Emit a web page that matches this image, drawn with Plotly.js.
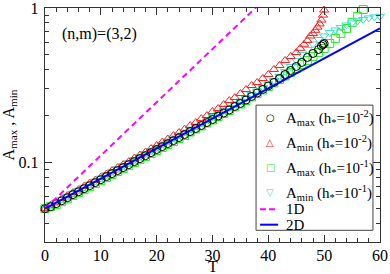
<!DOCTYPE html>
<html>
<head>
<meta charset="utf-8">
<script src="https://cdn.plot.ly/plotly-3.0.1.min.js"></script>
<style>html,body{margin:0;padding:0;background:#fff;}#chart{width:390px;height:274px;}</style>
</head>
<body>
<div id="chart"></div>
<script>
// ---- data ----
const T_amax_h2 = [0,1,2,3,4,5,6,7,8,9,10,11,12,13,14,15,16,17,18,19,20,21,22,23,24,25,26,27,28,29,30,31,32,33,34,35,36,37,38,39,40,41,42,43,44,45,46,47,48,49,49.5,49.8,50];
const amax_h2 = [0.0500,0.0515,0.0539,0.0563,0.0589,0.0617,0.0644,0.0674,0.0705,0.0738,0.0771,0.0807,0.0844,0.0883,0.0923,0.0965,0.1010,0.1056,0.1104,0.1155,0.1209,0.1264,0.1322,0.1382,0.1446,0.1512,0.1581,0.1654,0.1730,0.1809,0.1892,0.1994,0.2085,0.2182,0.2299,0.2404,0.2533,0.2669,0.2812,0.2964,0.3123,0.3291,0.3493,0.3708,0.3936,0.4178,0.4436,0.4780,0.5075,0.5387,0.5675,0.5800,0.5890];

const T_amin_h2 = [0,1,2,3,4,5,6,7,8,9,10,11,12,13,14,15,16,17,18,19,20,21,22,23,24,25,26,27,28,29,30,31,32,33,34,35,36,37,38,39,40,41,42,43,44,45,45.7,46.4,47,47.5,48,48.4,48.8,49.2,49.5,49.8,50];
const amin_h2 = [0.0500,0.0527,0.0551,0.0581,0.0607,0.0635,0.0664,0.0699,0.0732,0.0766,0.0801,0.0838,0.0883,0.0923,0.0965,0.1010,0.1064,0.1113,0.1164,0.1227,0.1283,0.1352,0.1414,0.1489,0.1558,0.1641,0.1729,0.1809,0.1920,0.2009,0.2132,0.2230,0.2367,0.2513,0.2628,0.2790,0.2962,0.3144,0.3288,0.3491,0.3706,0.3994,0.4239,0.4568,0.4848,0.5147,0.5474,0.5818,0.6154,0.6584,0.6828,0.7166,0.7505,0.7887,0.8354,0.8990,0.9700];

const T_amax_h1 = [0,1,2,3,4,5,6,7,8,9,10,11,12,13,14,15,16,17,18,19,20,21,22,23,24,25,26,27,28,29,30,31,32,33,34,35,36,37,38,39,40,41,42,43,44,45,46,47,48,49,50,51,52,53,54,55,56,57];
const amax_h1 = [0.0500,0.0515,0.0531,0.0555,0.0580,0.0608,0.0635,0.0664,0.0695,0.0727,0.0760,0.0795,0.0832,0.0870,0.0909,0.0951,0.0995,0.1040,0.1088,0.1139,0.1191,0.1245,0.1303,0.1362,0.1425,0.1490,0.1570,0.1642,0.1717,0.1797,0.1879,0.1979,0.2070,0.2165,0.2282,0.2386,0.2514,0.2650,0.2791,0.2942,0.3100,0.3267,0.3441,0.3626,0.3821,0.4056,0.4306,0.4571,0.4853,0.5152,0.5468,0.5893,0.6349,0.6842,0.7370,0.8063,0.8815,0.9781];

const T_amin_h1 = [0,1,2,3,4,5,6,7,8,9,10,11,12,13,14,15,16,17,18,19,20,21,22,23,24,25,26,27,28,29,30,31,32,33,34,35,36,37,38,39,40,41,42,43,44,45,46,47,48,49,50,51,52,53,54,55,56,57,58,59,60,60.6];
const amin_h1 = [0.0500,0.0527,0.0551,0.0576,0.0602,0.0631,0.0659,0.0689,0.0721,0.0755,0.0789,0.0831,0.0870,0.0909,0.0951,0.0995,0.1040,0.1088,0.1138,0.1191,0.1245,0.1312,0.1372,0.1435,0.1501,0.1570,0.1641,0.1717,0.1796,0.1892,0.1979,0.2070,0.2164,0.2264,0.2386,0.2495,0.2610,0.2750,0.2897,0.3053,0.3217,0.3390,0.3598,0.3877,0.4178,0.4568,0.4997,0.5384,0.5846,0.6250,0.6587,0.6940,0.7207,0.7479,0.7765,0.8004,0.8248,0.8433,0.8624,0.8759,0.8825,0.8850];

// theory lines (straight on a log axis: two end points each)
const T_1D = [0, 40];
const A_1D = [0.05, 1.2];
const T_2D = [0, 60];
const A_2D = [0.05, 0.738];

const xTicks = [0,10,20,30,40,50,60];
const yTickVals = [0.1, 1];
const yTickText = ['0.1', '1'];
const yMinor = [0.04,0.05,0.06,0.07,0.08,0.09,0.2,0.3,0.4,0.5,0.6,0.7,0.8,0.9];

const names = [
  'A<sub>max</sub> (h<sub>*</sub>=10<sup>-2</sup>)',
  'A<sub>min</sub> (h<sub>*</sub>=10<sup>-2</sup>)',
  'A<sub>max</sub> (h<sub>*</sub>=10<sup>-1</sup>)',
  'A<sub>min</sub> (h<sub>*</sub>=10<sup>-1</sup>)',
  '1D', '2D'
];
const colors = ['#000000', '#ff2020', '#22ee22', '#44dcd0', '#ff00ff', '#0000ff'];
const legendGlyphs = ['\u25CB', '\u25B3', '\u25A1', '\u25BD'];

const FONT = 'Liberation Serif, Times New Roman, serif';

function mk(x, y, name, sym, color) {
  return {x: x, y: y, type: 'scatter', mode: 'markers', name: name, showlegend: false,
    cliponaxis: false,
    marker: {symbol: sym, size: 8, color: color, line: {color: color, width: 1}}};
}

const traces = [
  mk(T_amax_h1, amax_h1, names[2], 'square-open', colors[2]),
  mk(T_amin_h1, amin_h1, names[3], 'triangle-down-open', colors[3]),
  mk(T_amin_h2, amin_h2, names[1], 'triangle-up-open', colors[1]),
  mk(T_amax_h2, amax_h2, names[0], 'circle-open', colors[0]),
  {x: T_1D, y: A_1D, type: 'scatter', mode: 'lines', name: names[4], showlegend: false,
   line: {color: colors[4], width: 2, dash: '6px,4px'}},
  {x: T_2D, y: A_2D, type: 'scatter', mode: 'lines', name: names[5], showlegend: false,
   line: {color: colors[5], width: 2}}
];

const axisCommon = {
  showline: true, linecolor: '#333', linewidth: 1.2, mirror: 'ticks',
  ticks: 'inside', ticklen: 7, tickwidth: 1, tickcolor: '#333',
  showgrid: false, zeroline: false, ticklabeloverflow: 'allow',
  tickfont: {family: FONT, size: 16, color: '#000'}
};

// ---- hand-built legend box (layout only, in paper fractions) ----
const LX0 = 0.630, LX1 = 0.979, LY0 = 0.050, LY1 = 0.585;
const rowY = [0.530, 0.423, 0.316, 0.209, 0.140, 0.074];
const symX = 0.672, txtX = 0.712, lnX0 = 0.642, lnX1 = 0.696;

const annotations = [{
  xref: 'paper', yref: 'paper', x: 0.045, y: 0.889, xanchor: 'left', yanchor: 'middle',
  text: '(n,m)=(3,2)', showarrow: false, font: {family: FONT, size: 16, color: '#000'}
}, {
  // x-axis title
  xref: 'paper', yref: 'paper', x: 0.5, y: -0.101, xanchor: 'center', yanchor: 'middle',
  height: 12, text: 'T', showarrow: false, font: {family: FONT, size: 16, color: '#000'}
}];
const shapes = [{
  type: 'rect', xref: 'paper', yref: 'paper', x0: LX0, x1: LX1, y0: LY0, y1: LY1,
  line: {color: '#444', width: 1}, fillcolor: '#fff', layer: 'above'
}];
names.forEach((nm, i) => {
  annotations.push({xref: 'paper', yref: 'paper', x: txtX, y: rowY[i], xanchor: 'left', yanchor: 'middle',
    text: nm, showarrow: false, font: {family: FONT, size: 15, color: '#000'}});
  if (i < 4) {
    annotations.push({xref: 'paper', yref: 'paper', x: symX, y: rowY[i] + 0.004, xanchor: 'center', yanchor: 'middle',
      text: legendGlyphs[i], showarrow: false, font: {family: 'DejaVu Sans', size: 10, color: colors[i]}});
  } else {
    shapes.push({type: 'line', xref: 'paper', yref: 'paper', x0: lnX0, x1: lnX1, y0: rowY[i], y1: rowY[i],
      line: {color: colors[i], width: 2, dash: i === 4 ? '6px,3px' : 'solid'}, layer: 'above'});
  }
});

const layout = {
  width: 390, height: 274,
  margin: {l: 45, r: 10, t: 8, b: 32},
  paper_bgcolor: '#fff', plot_bgcolor: '#fff',
  font: {family: FONT, size: 15, color: '#000'},
  showlegend: false,
  xaxis: Object.assign({}, axisCommon, {
    range: [0, 60], tickmode: 'array', tickvals: xTicks,
    minor: {dtick: 2, tick0: 0, ticks: 'inside', ticklen: 4, tickcolor: '#333'},
    ticklabelstandoff: -1
  }),
  yaxis: Object.assign({}, axisCommon, {
    type: 'log', range: [-1.517, 0],
    tickmode: 'array', tickvals: yTickVals, ticktext: yTickText,
    minor: {tickmode: 'array', tickvals: yMinor, ticks: 'inside', ticklen: 4, tickcolor: '#333'},
    ticklabelstandoff: 2,
    title: {text: 'A<sub>max</sub> , A<sub>min</sub>', font: {family: FONT, size: 16}, standoff: 4}
  }),
  shapes: shapes,
  annotations: annotations
};

Plotly.newPlot('chart', traces, layout, {displayModeBar: false, staticPlot: true});
</script>
</body>
</html>
